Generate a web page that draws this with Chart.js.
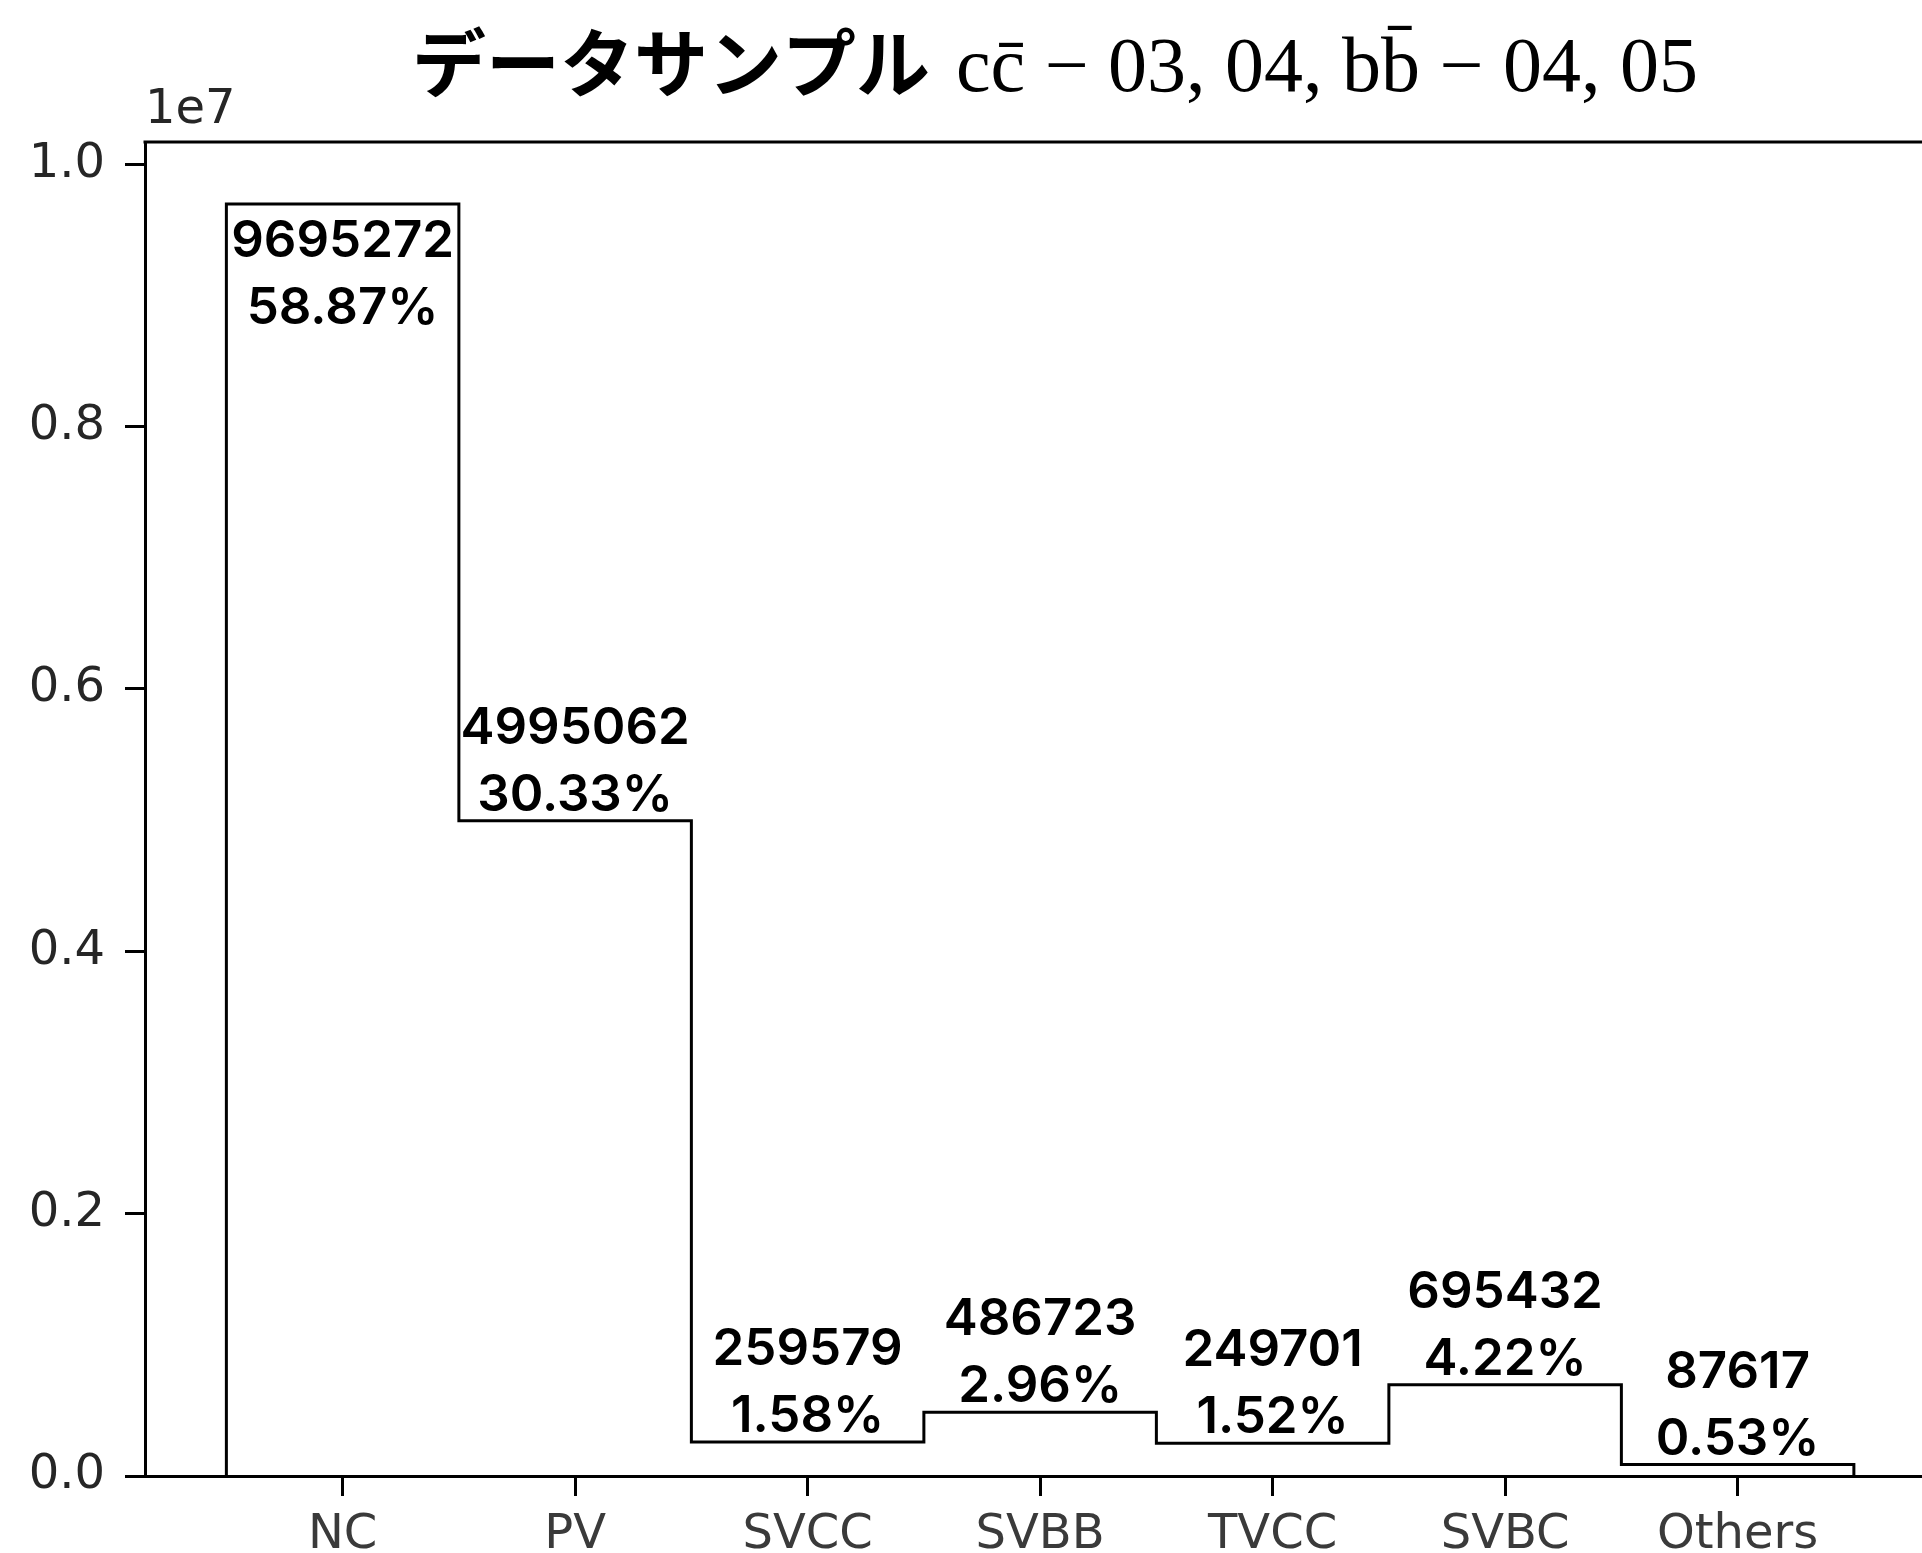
<!DOCTYPE html>
<html>
<head>
<meta charset="utf-8">
<script src="https://cdn.jsdelivr.net/npm/chart.js@4/dist/chart.umd.min.js"></script>
<style>
  html, body { margin: 0; padding: 0; background: #fff; }
  canvas { display: block; }
</style>
</head>
<body>
<canvas id="chart" width="1922" height="1553"></canvas>
<script>
// Event counts per category
const categories = ['NC', 'PV', 'SVCC', 'SVBB', 'TVCC', 'SVBC', 'Others'];
const counts = [9695272, 4995062, 259579, 486723, 249701, 695432, 87617];
const yTickValues = [0, 2000000, 4000000, 6000000, 8000000, 10000000];
const yScaleExponent = 7;
const titleMain = 'データサンプル';
const titleSub = 'cc\u0304 \u2212 03, 04, bb\u0304 \u2212 04, 05';

const total = counts.reduce((a, b) => a + b, 0);
const percents = counts.map(v => (v / total * 100).toFixed(2) + '%');

// Step outline of the histogram: one unit-wide bin per category
const outline = [{ x: 0, y: 0 }];
counts.forEach((v, i) => {
  outline.push({ x: i, y: v });
  outline.push({ x: i + 1, y: v });
});
outline.push({ x: counts.length, y: 0 });

const decorations = {
  id: 'decorations',
  afterDatasetsDraw(chart) {
    const { ctx, chartArea, scales } = chart;
    const xs = scales.x, ys = scales.y;
    ctx.save();
    // top spine
    ctx.strokeStyle = '#000';
    ctx.lineWidth = 3;
    ctx.beginPath();
    ctx.moveTo(chartArea.left - 1.5, chartArea.top);
    ctx.lineTo(chartArea.right, chartArea.top);
    ctx.stroke();

    // count and share labels
    ctx.fillStyle = '#000';
    ctx.textAlign = 'center';
    ctx.textBaseline = 'alphabetic';
    ctx.font = '600 51px Inter';
    const lineGap = 67;
    counts.forEach((v, i) => {
      const cx = xs.getPixelForValue(i + 0.5);
      const top = ys.getPixelForValue(v);
      let b2 = top - 10;
      let b1 = b2 - lineGap;
      if (b1 - 38 < chartArea.top) {
        b1 = top + 53;
        b2 = b1 + lineGap;
      }
      ctx.fillText(String(v), cx, b1);
      ctx.fillText(percents[i], cx, b2);
    });

    // scale exponent above the y axis
    ctx.textAlign = 'left';
    ctx.fillStyle = '#262626';
    ctx.font = '48px "DejaVu Sans"';
    ctx.fillText('1e' + yScaleExponent, chartArea.left, 123);

    // title: Japanese run followed by the serif formula run
    ctx.fillStyle = '#000';
    const fMain = 'bold 74px "Noto Sans CJK JP"';
    const fSub = '78px "Liberation Serif"';
    ctx.font = fMain;
    const wMain = ctx.measureText(titleMain).width;
    ctx.font = fSub;
    const wSub = ctx.measureText(titleSub).width;
    const gap = 26;
    const left = 1055 - (wMain + gap + wSub) / 2;
    ctx.font = fMain;
    ctx.fillText(titleMain, left, 91);
    ctx.font = fSub;
    ctx.fillText(titleSub, left + wMain + gap, 91);
    ctx.restore();
  }
};

new Chart(document.getElementById('chart'), {
  type: 'line',
  data: {
    datasets: [{
      data: outline,
      borderColor: '#000',
      borderWidth: 3,
      pointRadius: 0,
      fill: false,
      tension: 0,
      borderJoinStyle: 'miter'
    }]
  },
  options: {
    responsive: false,
    animation: false,
    devicePixelRatio: 1,
    layout: { padding: { top: 142, left: 0, right: 0, bottom: 0 } },
    plugins: { legend: { display: false }, tooltip: { enabled: false }, title: { display: false } },
    scales: {
      x: {
        type: 'linear',
        min: -0.35,
        max: 7.293,
        afterBuildTicks: s => { s.ticks = categories.map((_, i) => ({ value: i + 0.5 })); },
        afterFit: s => { s.height = 77; },
        ticks: {
          callback: (v, i) => categories[i],
          color: '#3a3a3a',
          font: { family: 'DejaVu Sans', size: 48 },
          padding: 11,
          maxRotation: 0,
          autoSkip: false
        },
        grid: { drawOnChartArea: false, tickLength: 20, tickWidth: 3, tickColor: '#000' },
        border: { display: true, color: '#000', width: 3 }
      },
      y: {
        type: 'linear',
        min: 0,
        max: 10168000,
        afterBuildTicks: s => { s.ticks = yTickValues.map(v => ({ value: v })); },
        afterFit: s => { s.width = 145; },
        ticks: {
          callback: v => (v / Math.pow(10, yScaleExponent)).toFixed(1),
          color: '#262626',
          font: { family: 'DejaVu Sans', size: 48 },
          padding: 20
        },
        grid: { drawOnChartArea: false, tickLength: 20, tickWidth: 3, tickColor: '#000' },
        border: { display: true, color: '#000', width: 3 }
      }
    }
  },
  plugins: [decorations]
});
</script>
</body>
</html>
